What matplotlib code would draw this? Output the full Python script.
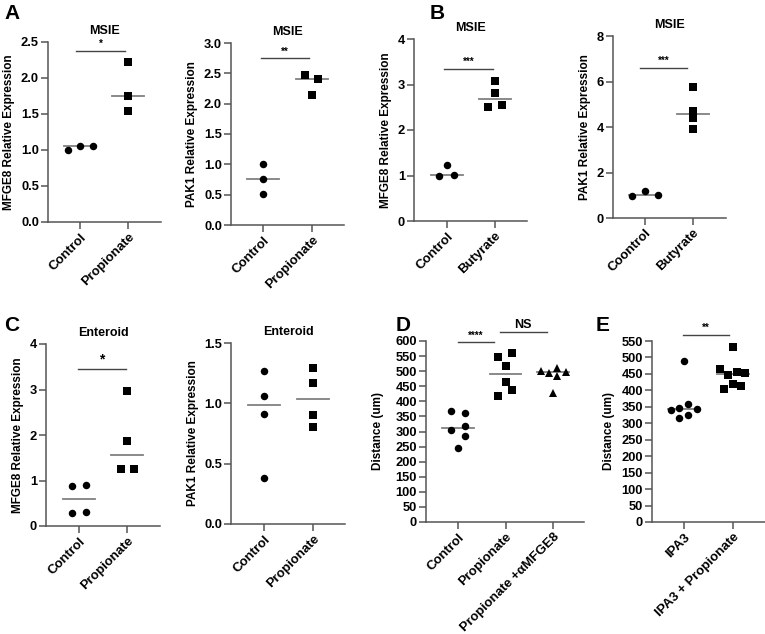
import numpy as np
import matplotlib
matplotlib.use("Agg")
import matplotlib.pyplot as plt

plt.rcParams['font.family'] = ['Liberation Sans', 'DejaVu Sans']
plt.rcParams['font.weight'] = 'bold'

W, H = 765, 634

# ---------------- data ----------------
# Panel A (MSIE, Propionate)
a1_cats = ["Control", "Propionate"]
a1_control = [1.00, 1.06, 1.05]
a1_prop = [2.22, 1.75, 1.54]

a2_cats = ["Control", "Propionate"]
a2_control = [1.00, 0.76, 0.505]
a2_prop = [2.47, 2.40, 2.15]

# Panel B (MSIE, Butyrate)
b1_cats = ["Control", "Butyrate"]
b1_control = [1.00, 1.24, 1.01]
b1_buty = [3.07, 2.81, 2.50, 2.56]

b2_cats = ["Coontrol", "Butyrate"]
b2_control = [0.95, 1.18, 1.01]
b2_buty = [5.74, 4.72, 4.38, 3.93]

# Panel C (Enteroid)
c1_cats = ["Control", "Propionate"]
c1_control = [0.88, 0.91, 0.28, 0.31]
c1_prop = [2.96, 1.86, 1.26, 1.26]

c2_cats = ["Control", "Propionate"]
c2_control = [1.27, 1.06, 0.91, 0.385]
c2_prop = [1.29, 1.17, 0.90, 0.80]

# Panel D (Distance)
d_cats = ["Control", "Propionate", "Propionate +αMFGE8"]
d_control = [368, 361, 304, 317, 286, 246]
d_prop = [547, 561, 518, 465, 436, 418]
d_prop_ab = [501, 495, 510, 498, 484, 427]

# Panel E (Distance)
e_cats = ["IPA3", "IPA3 + Propionate"]
e_ipa3 = [489, 339, 347, 360, 344, 315, 326]
e_ipa3_prop = [532, 464, 447, 456, 453, 403, 420, 413]

# ---------------- layout (swarm offsets in category units) ----------------
jit = {
    "a1c": [-0.25, 0.0, 0.27], "a1p": [0, 0, 0],
    "a2c": [0, 0, 0], "a2p": [-0.14, 0.12, 0.0],
    "b1c": [-0.17, 0.0, 0.15], "b1p": [0, 0, -0.15, 0.15],
    "b2c": [-0.27, 0.0, 0.27], "b2p": [0, 0, 0, 0],
    "c1c": [-0.15, 0.15, -0.15, 0.15], "c1p": [0, 0, -0.13, 0.14],
    "c2c": [0, 0, 0, 0], "c2p": [0, 0, 0, 0],
    "dc": [-0.15, 0.15, -0.15, 0.15, 0.15, 0.0],
    "dp": [-0.15, 0.13, 0.0, 0.0, 0.13, -0.15],
    "dt": [-0.25, -0.08, 0.08, 0.27, 0.08, 0.0],
    "ec": [0.0, -0.27, -0.1, 0.08, 0.27, -0.1, 0.08],
    "ep": [0.0, -0.27, -0.1, 0.08, 0.25, -0.18, 0.0, 0.16],
}

SPINE = '#555555'
MED = '#808080'

fig = plt.figure(figsize=(W / 100, H / 100), dpi=100)


def make_ax(xl, yt, xr, yb, t0, t1):
    ax = fig.add_axes([xl / W, 1 - yb / H, (xr - xl) / W, (yb - yt) / H])
    s = t1 - t0
    ax.set_xlim((xl - t0) / s, (xr - t0) / s)
    for sp in ['top', 'right']:
        ax.spines[sp].set_visible(False)
    for sp in ['left', 'bottom']:
        ax.spines[sp].set_color(SPINE)
        ax.spines[sp].set_linewidth(1.1)
    ax.tick_params(axis='both', direction='out', length=5, width=1.1, color=SPINE,
                   labelsize=9.3, pad=1.5)
    return ax


def plot_group(ax, pos, vals, offs, marker, ms):
    x = pos + np.array(offs)
    ax.plot(x, vals, linestyle='none', marker=marker, color='black', markersize=ms,
            markeredgewidth=0, zorder=3, clip_on=False)
    med = np.median(vals)
    ax.plot([pos - 0.33, pos + 0.33], [med, med], color=MED, lw=1.3, zorder=2)


def sig(ax, x0, x1, y, txt, fs=7, dy=0.0):
    ax.plot([x0, x1], [y, y], color='#444444', lw=1.0, clip_on=False)
    ax.text((x0 + x1) / 2, y + dy, txt, ha='center', va='bottom', fontsize=fs,
            fontweight='bold', clip_on=False)


def finish(ax, cats, ylim, yticks, fmt, ylabel, title=None, lp=4):
    ax.set_ylim(*ylim)
    ax.set_yticks(yticks)
    ax.set_yticklabels([fmt.format(v) for v in yticks])
    ax.set_xticks(range(len(cats)))
    ax.set_xticklabels(cats, rotation=45, ha='right', rotation_mode='anchor', fontsize=9.5)
    if ylabel:
        ax.set_ylabel(ylabel, fontsize=8.5, fontweight='bold', labelpad=lp)
    if title:
        ax.set_title(title, fontsize=9, fontweight='bold', pad=6)


CM = 5.4  # circle size
SQ = 5.6  # square size
TR = 6.2

# A1
ax = make_ax(48, 42, 161, 222, 80, 128)
plot_group(ax, 0, a1_control, jit["a1c"], 'o', CM)
plot_group(ax, 1, a1_prop, jit["a1p"], 's', SQ)
finish(ax, a1_cats, (0, 2.5), [0, 0.5, 1.0, 1.5, 2.0, 2.5], "{:.1f}",
       "MFGE8 Relative Expression", "MSIE")
sig(ax, -0.08, 0.94, 2.38, "*", fs=7, dy=0.03)

# A2
ax = make_ax(231, 43, 344, 225, 263, 312)
plot_group(ax, 0, a2_control, jit["a2c"], 'o', CM)
plot_group(ax, 1, a2_prop, jit["a2p"], 's', SQ)
finish(ax, a2_cats, (0, 3.0), [0, 0.5, 1.0, 1.5, 2.0, 2.5, 3.0], "{:.1f}",
       "PAK1 Relative Expression", "MSIE")
sig(ax, -0.04, 0.94, 2.75, "**", fs=7, dy=0.03)

# B1
ax = make_ax(414, 39, 527, 221, 447, 495)
plot_group(ax, 0, b1_control, jit["b1c"], 'o', CM)
plot_group(ax, 1, b1_buty, jit["b1p"], 's', SQ)
finish(ax, b1_cats, (0, 4), [0, 1, 2, 3, 4], "{:d}",
       "MFGE8 Relative Expression", "MSIE")
sig(ax, -0.06, 0.96, 3.33, "***", fs=7, dy=0.05)

# B2
ax = make_ax(613, 36, 726, 218, 645, 693)
plot_group(ax, 0, b2_control, jit["b2c"], 'o', CM)
plot_group(ax, 1, b2_buty, jit["b2p"], 's', SQ)
finish(ax, b2_cats, (0, 8), [0, 2, 4, 6, 8], "{:d}",
       "PAK1 Relative Expression", "MSIE")
sig(ax, -0.1, 0.875, 6.61, "***", fs=7, dy=0.1)

# C1
ax = make_ax(46, 344, 160, 526, 79, 127)
plot_group(ax, 0, c1_control, jit["c1c"], 'o', CM)
plot_group(ax, 1, c1_prop, jit["c1p"], 's', SQ)
finish(ax, c1_cats, (0, 4), [0, 1, 2, 3, 4], "{:d}",
       "MFGE8 Relative Expression", "Enteroid")
sig(ax, -0.02, 0.98, 3.45, "*", fs=10, dy=0.05)

# C2
ax = make_ax(231, 343, 345, 524, 264, 313)
plot_group(ax, 0, c2_control, jit["c2c"], 'o', CM)
plot_group(ax, 1, c2_prop, jit["c2p"], 's', SQ)
finish(ax, c2_cats, (0, 1.5), [0, 0.5, 1.0, 1.5], "{:.1f}",
       "PAK1 Relative Expression", "Enteroid")

# D
ax = make_ax(426, 341, 584, 522, 458, 505.5)
plot_group(ax, 0, d_control, jit["dc"], 'o', CM)
plot_group(ax, 1, d_prop, jit["dp"], 's', SQ)
plot_group(ax, 2, d_prop_ab, jit["dt"], '^', TR)
finish(ax, d_cats, (0, 600), list(range(0, 601, 50)), "{:d}", "Distance (um)", lp=8)
sig(ax, 0.0, 0.76, 596, "****", fs=7, dy=6)
sig(ax, 0.88, 1.87, 629, "NS", fs=9, dy=4)

# E
ax = make_ax(652, 341, 765, 522, 684, 733)
plot_group(ax, 0, e_ipa3, jit["ec"], 'o', CM)
plot_group(ax, 1, e_ipa3_prop, jit["ep"], 's', SQ)
finish(ax, e_cats, (0, 550), list(range(0, 551, 50)), "{:d}", "Distance (um)", lp=5)
sig(ax, -0.02, 0.92, 568, "**", fs=7, dy=6)

# panel letters
for lab, x, y in [("A", 4, 4), ("B", 430, 4), ("C", 4, 316), ("D", 396, 316), ("E", 596, 316)]:
    fig.text(x / W, 1 - y / H, lab, fontsize=15, fontweight='bold', ha='left', va='top')

fig.savefig("out.png", dpi=100)
